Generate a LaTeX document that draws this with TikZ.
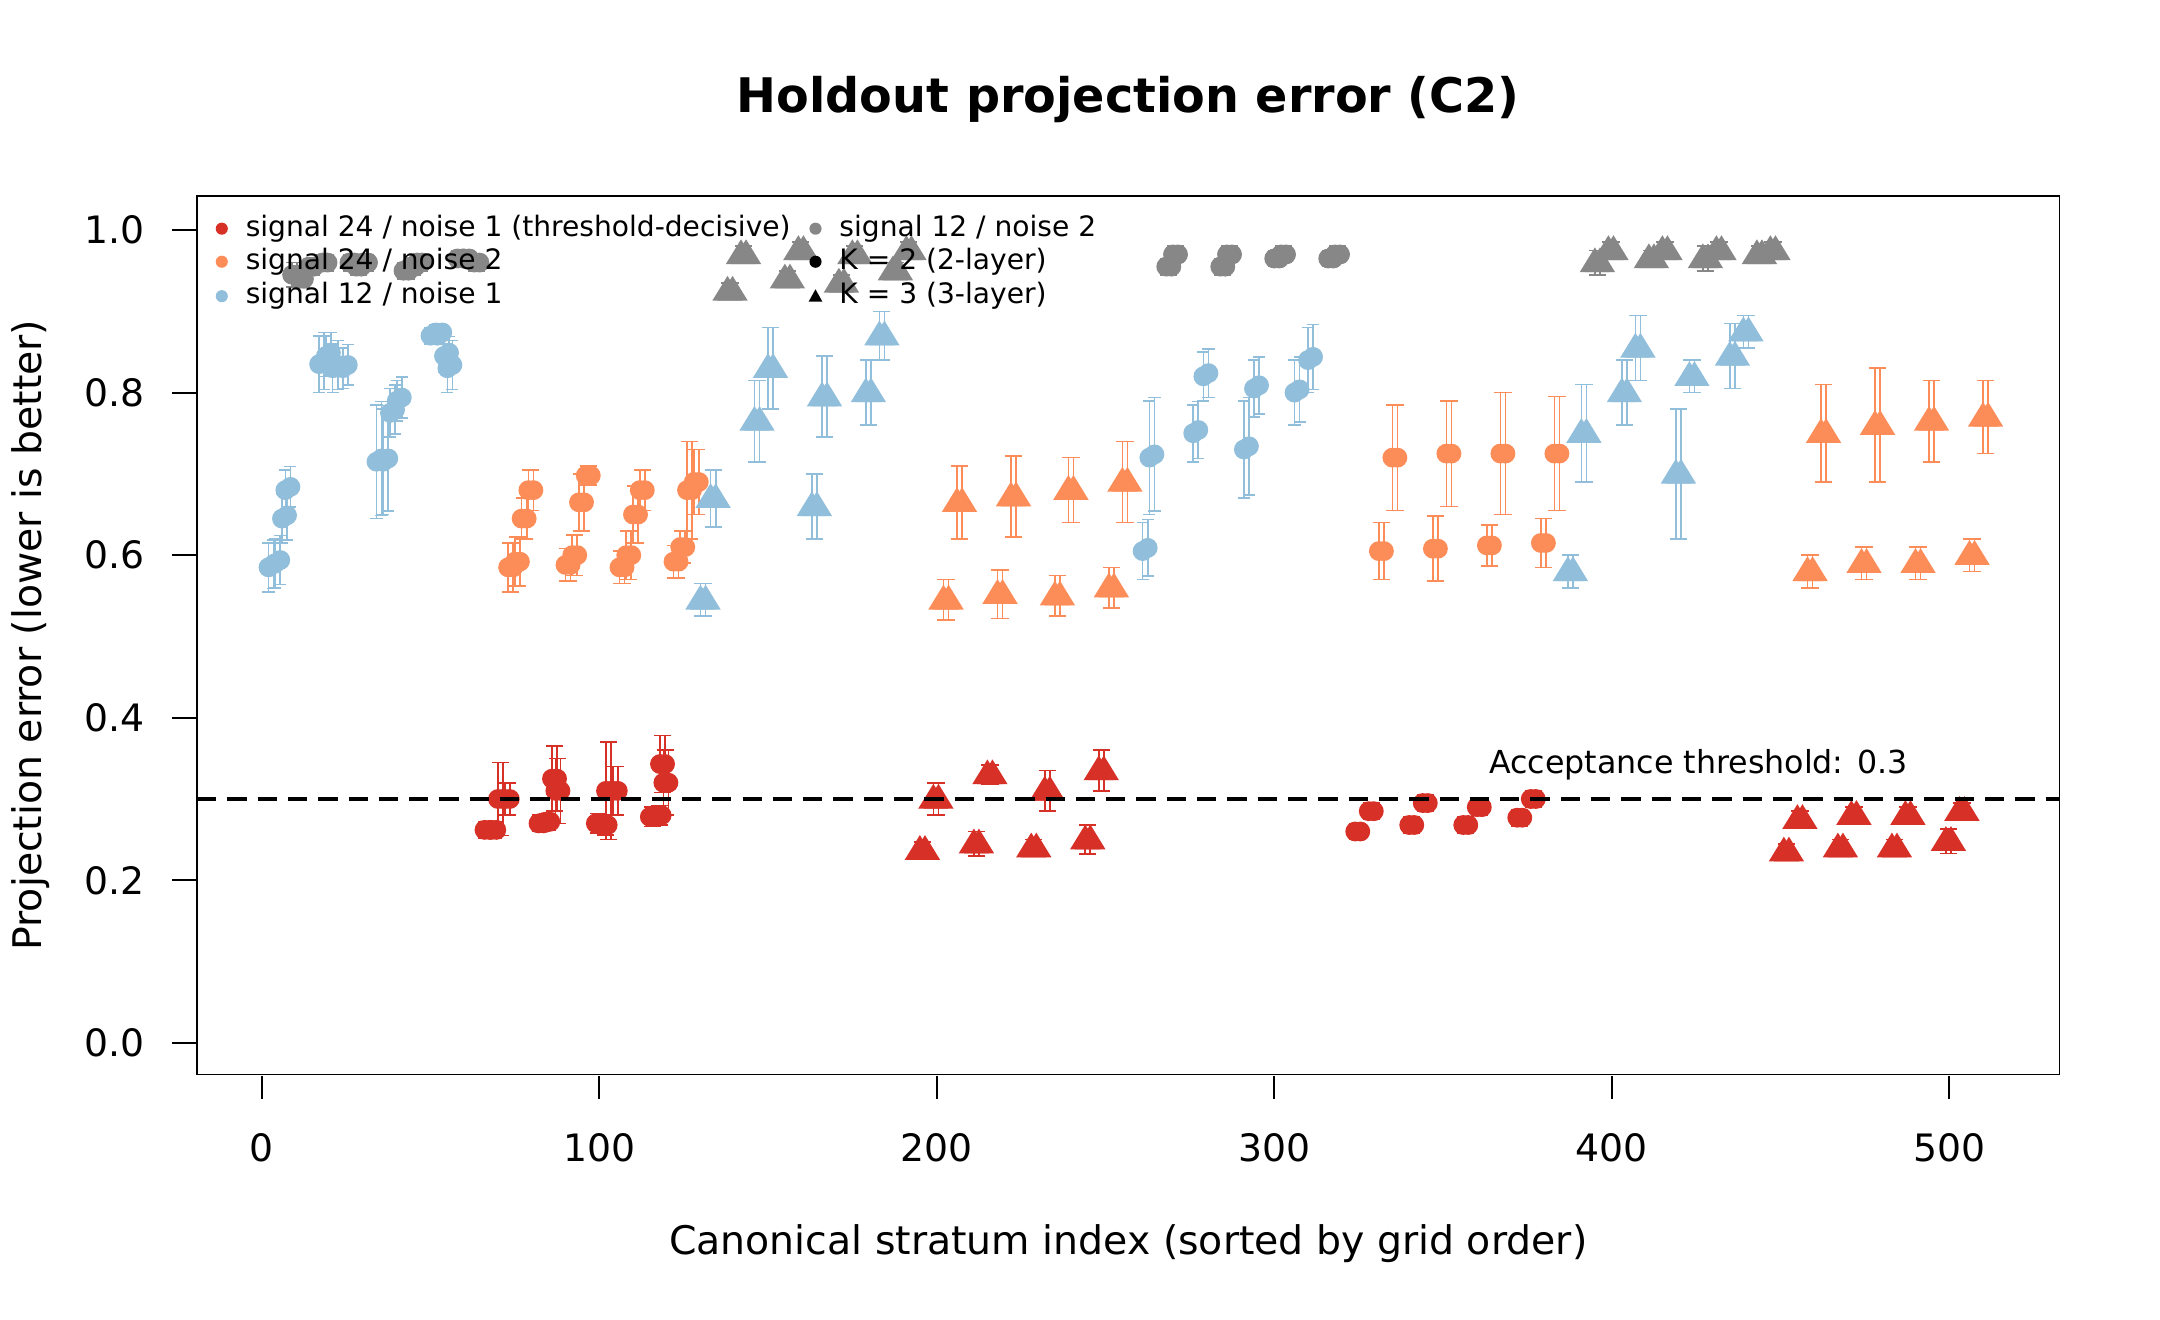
\documentclass[tikz,border=0pt]{standalone}
\usepackage{fontspec}
\setmainfont{DejaVu Sans}
\definecolor{cr}{HTML}{D73027}
\definecolor{co}{HTML}{FC8D59}
\definecolor{cb}{HTML}{91BFDB}
\definecolor{cg}{HTML}{878787}
\newcommand\ebc[4]{\draw[#1,line width=0.6pt] (#2,#3-#4)--(#2,#3+#4) (#2,#3+#4)++(-2.2pt,0)--++(4.4pt,0) (#2,#3-#4)++(-2.2pt,0)--++(4.4pt,0);\fill[#1] (#2,#3) circle[radius=3.6pt];}
\newcommand\ebt[4]{\draw[#1,line width=0.6pt] (#2,#3-#4)--(#2,#3+#4) (#2,#3+#4)++(-2.2pt,0)--++(4.4pt,0) (#2,#3-#4)++(-2.2pt,0)--++(4.4pt,0);\fill[#1] (#2,#3)++(0,5.5pt)--++(-5.5pt,-9pt)--++(11pt,0)--cycle;}
\begin{document}
\begin{tikzpicture}[x=0.5pt,y=-0.5pt]
\useasboundingbox (0,0) rectangle (1568,958);
\node[font=\fontsize{17.3}{20}\selectfont\bfseries] (title) at (819,72) {Holdout projection error (C2)};
\node[font=\fontsize{14.3}{17}\selectfont] (xl) at (819,903) {Canonical stratum index (sorted by grid order)};
\node[font=\fontsize{14.3}{17}\selectfont,rotate=90] (yl) at (22,461) {Projection error (lower is better)};
\draw[line width=0.7pt] (143,142) rectangle (1495,780);
\foreach \d in {0,100,...,500}{\draw[line width=0.7pt] (190+\d*2.45,781)--(190+\d*2.45,798); \node[font=\fontsize{13.7}{16}\selectfont] at (190+\d*2.45,833) {\d};}
\foreach \v in {0.0,0.2,0.4,0.6,0.8,1.0}{\draw[line width=0.7pt] (142,757-\v*590)--(125,757-\v*590); \node[font=\fontsize{13.7}{16}\selectfont,anchor=east] at (112,757-\v*590) {\v};}
\begin{scope}[shift={(95pt,-378.5pt)},x=1.225pt,y=295pt]
\foreach \x/\y/\e in {2/0.585/0.03,4/0.59/0.03,6/0.645/0.03,7/0.68/0.025,17/0.835/0.035,19/0.845/0.025,21/0.83/0.03,24/0.83/0.025,34/0.715/0.07,36/0.715/0.065,38/0.775/0.03,40/0.79/0.025,50/0.87/0.01,52/0.87/0.01,54/0.845/0.02,55/0.83/0.03,261/0.605/0.035,263/0.72/0.07,276/0.75/0.035,279/0.82/0.03,291/0.73/0.06,294/0.805/0.035,306/0.8/0.04,310/0.84/0.04}{\ebc{cb}{\x}{\y}{\e}\ebc{cb}{\x+1.5}{\y+0.004}{\e}}
\foreach \x/\y/\e in {9/0.945/0.015,11/0.94/0.01,14/0.955/0.01,18/0.96/0.01,26/0.96/0.01,28/0.955/0.01,30/0.96/0.01,42/0.95/0.01,44/0.955/0.01,46/0.96/0.01,58/0.965/0.01,60/0.965/0.01,63/0.96/0.01,268/0.955/0.01,270/0.97/0.01,284/0.955/0.01,286/0.97/0.01,300/0.965/0.01,302/0.97/0.01,316/0.965/0.01,318/0.97/0.01}{\ebc{cg}{\x}{\y}{\e}\ebc{cg}{\x+1.5}{\y}{\e}}
\foreach \x/\y/\e in {66/0.262/0.01,68/0.262/0.01,70/0.3/0.045,72/0.3/0.02,82/0.27/0.01,84/0.272/0.01,86/0.325/0.04,87/0.31/0.04,99/0.27/0.012,101/0.268/0.012,102/0.31/0.06,104/0.31/0.03,115/0.278/0.012,117/0.28/0.012,118/0.343/0.035,119/0.32/0.04,324/0.26/0.01,328/0.285/0.01,340/0.268/0.01,344/0.295/0.01,356/0.268/0.01,360/0.29/0.01,372/0.277/0.01,376/0.3/0.01}{\ebc{cr}{\x}{\y}{\e}\ebc{cr}{\x+1.5}{\y}{\e}}
\foreach \x/\y/\e in {73/0.585/0.03,75/0.592/0.03,77/0.645/0.025,79/0.68/0.025,90/0.588/0.02,92/0.6/0.025,94/0.665/0.035,96/0.698/0.012,106/0.585/0.02,108/0.6/0.03,110/0.65/0.035,112/0.68/0.025,122/0.592/0.02,124/0.61/0.02,126/0.68/0.06,128/0.69/0.04,331/0.605/0.035,335/0.72/0.065,347/0.608/0.04,351/0.725/0.065,363/0.612/0.025,367/0.725/0.075,379/0.615/0.03,383/0.725/0.07}{\ebc{co}{\x}{\y}{\e}\ebc{co}{\x+1.5}{\y}{\e}}
\foreach \x/\y/\e in {130/0.545/0.02,133/0.67/0.035,146/0.765/0.05,150/0.83/0.05,163/0.66/0.04,166/0.795/0.05,179/0.8/0.04,183/0.87/0.03,387/0.58/0.02,391/0.75/0.06,403/0.8/0.04,407/0.855/0.04,419/0.7/0.08,423/0.82/0.02,435/0.845/0.04,439/0.875/0.02}{\ebt{cb}{\x}{\y}{\e}\ebt{cb}{\x+1.5}{\y}{\e}}
\foreach \x/\y/\e in {138/0.925/0.01,142/0.97/0.01,155/0.94/0.01,159/0.975/0.01,171/0.935/0.01,175/0.97/0.01,187/0.95/0.01,191/0.975/0.01,395/0.96/0.015,399/0.975/0.01,411/0.965/0.01,415/0.975/0.01,427/0.965/0.015,431/0.975/0.01,443/0.97/0.01,447/0.975/0.01}{\ebt{cg}{\x}{\y}{\e}\ebt{cg}{\x+1.5}{\y}{\e}}
\foreach \x/\y/\e in {195/0.237/0.01,199/0.3/0.02,211/0.245/0.015,215/0.33/0.012,228/0.24/0.01,232/0.31/0.025,244/0.25/0.018,248/0.335/0.025,451/0.235/0.01,455/0.275/0.01,467/0.24/0.01,471/0.28/0.01,483/0.24/0.01,487/0.28/0.01,499/0.248/0.015,503/0.285/0.01}{\ebt{cr}{\x}{\y}{\e}\ebt{cr}{\x+1.5}{\y}{\e}}
\foreach \x/\y/\e in {202/0.545/0.025,206/0.665/0.045,218/0.552/0.03,222/0.672/0.05,235/0.55/0.025,239/0.68/0.04,251/0.56/0.025,255/0.69/0.05,458/0.58/0.02,462/0.75/0.06,474/0.59/0.02,478/0.76/0.07,490/0.59/0.02,494/0.765/0.05,506/0.6/0.02,510/0.77/0.045}{\ebt{co}{\x}{\y}{\e}\ebt{co}{\x+1.5}{\y}{\e}}
\end{scope}
\draw[dashed,line width=1.1pt,dash pattern=on 7pt off 4pt] (143,580)--(1495,580);
\node[font=\fontsize{11.5}{14}\selectfont,anchor=west] (thr) at (1074,555) {Acceptance threshold: 0.3};
\begin{scope}[every node/.style={font=\fontsize{10.2}{12}\selectfont,anchor=west,inner sep=0pt}]
\fill[cr] (161,166) circle[radius=2.2pt]; \node (l1) at (178,166) {signal 24 / noise 1 (threshold-decisive)};
\fill[co] (161,190) circle[radius=2.2pt]; \node (l2) at (178,190) {signal 24 / noise 2};
\fill[cb] (161,215) circle[radius=2.2pt]; \node (l3) at (178,215) {signal 12 / noise 1};
\fill[cg] (592,166) circle[radius=2.2pt]; \node (l4) at (609,166) {signal 12 / noise 2};
\fill[black] (592,190) circle[radius=2.2pt]; \node (l5) at (609,190) {K = 2 (2-layer)};
\fill[black] (592,210)--(587,219)--(597,219)--cycle; \node (l6) at (609,215) {K = 3 (3-layer)};
\end{scope}
\end{tikzpicture}
\end{document}
